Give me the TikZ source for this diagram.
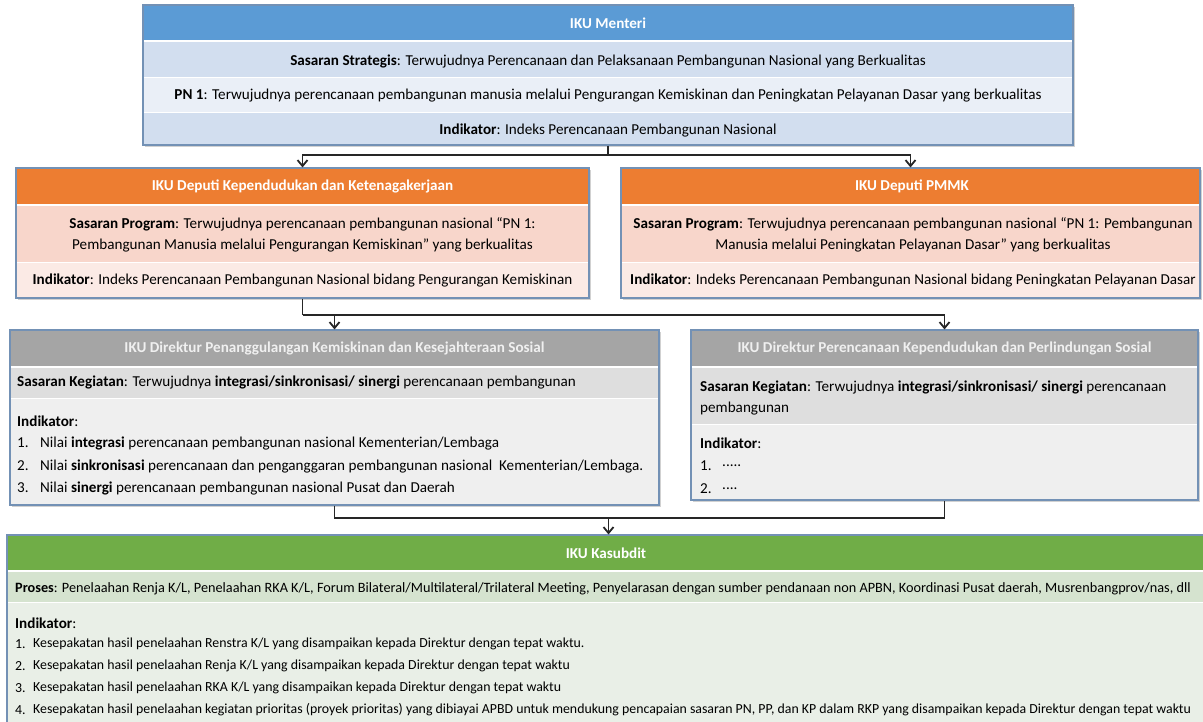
\documentclass[tikz,border=0pt]{standalone}
\usepackage{fontspec}
\setmainfont{Carlito}
\usetikzlibrary{arrows.meta}

\definecolor{frame}{HTML}{7391B5}
\definecolor{blueHead}{HTML}{5B9BD5}
\definecolor{blueRowA}{HTML}{D2DEEF}
\definecolor{blueRowB}{HTML}{EAEFF7}
\definecolor{orHead}{HTML}{ED7D31}
\definecolor{orRowA}{HTML}{F8D6CB}
\definecolor{orRowB}{HTML}{FBEAE5}
\definecolor{grHead}{HTML}{A5A5A5}
\definecolor{grRowA}{HTML}{DEDEDE}
\definecolor{grRowB}{HTML}{EFEFEF}
\definecolor{gnHead}{HTML}{70AD47}
\definecolor{gnRowA}{HTML}{D5E3CF}
\definecolor{gnRowB}{HTML}{E9EFE7}

\newcommand{\mainsize}{\fontsize{15.2}{21}\selectfont}
\newcommand{\smallsize}{\fontsize{13.9}{21}\selectfont}
\newcommand{\prosessize}{\fontsize{14.3}{21}\selectfont}

\tikzset{
  boxframe/.style={draw=frame, line width=1.1bp, inner sep=0pt},
  shade box/.style={fill=black, opacity=0.18},
  link/.style={draw=black!85, line width=1.2bp},
  tip/.style={-{Straight Barb[length=6bp,width=10bp,line width=1.8bp]}},
  headtxt/.style={inner sep=0pt, font=\mainsize\bfseries, text=white},
  greytxt/.style={inner sep=0pt, font=\mainsize\bfseries, text=white!94!black},
  txt/.style={inner sep=0pt},
  ltxt/.style={inner sep=0pt, anchor=west},
  para/.style={inner sep=0pt, align=center, font=\mainsize},
}

\begin{document}
\begin{tikzpicture}[x=1bp,y=-1bp, font=\mainsize]
\useasboundingbox (0,0) rectangle (1203,722);

% ---------- IKU Menteri ----------
\fill[shade box] (145,7) rectangle (1075,147);
\fill[white] (143,5) rectangle (1073,145);
\fill[blueHead] (143,5) rectangle (1073,40);
\fill[blueRowA] (143,42) rectangle (1073,77);
\fill[blueRowB] (143,78) rectangle (1073,112);
\fill[blueRowA] (143,113) rectangle (1073,145);
\node[boxframe, minimum width=930bp, minimum height=140bp] (menteri) at (608,75) {};
\node[headtxt] (menteriH) at (608,23) {IKU Menteri};
\node[txt] (menteriS) at (608,61) {\textbf{Sasaran Strategis}: Terwujudnya Perencanaan dan Pelaksanaan Pembangunan Nasional yang Berkualitas};
\node[txt] (menteriP) at (608,96) {\textbf{PN 1}: Terwujudnya perencanaan pembangunan manusia melalui Pengurangan Kemiskinan dan Peningkatan Pelayanan Dasar yang berkualitas};
\node[txt] (menteriI) at (608,130) {\textbf{Indikator}: Indeks Perencanaan Pembangunan Nasional};

% ---------- IKU Deputi Kependudukan dan Ketenagakerjaan ----------
\fill[shade box] (18,170) rectangle (591,300);
\fill[white] (16,168) rectangle (589,298);
\fill[orHead] (16,168) rectangle (589,204);
\fill[orRowA] (16,206) rectangle (589,262);
\fill[orRowB] (16,263) rectangle (589,298);
\node[boxframe, minimum width=573bp, minimum height=130bp] (depK) at (302.5,233) {};
\node[headtxt] (depKH) at (302.5,186) {IKU Deputi Kependudukan dan Ketenagakerjaan};
\node[para] (depKS) at (302.5,235) {\textbf{Sasaran Program}: Terwujudnya perencanaan pembangunan nasional “PN 1:\\Pembangunan Manusia melalui Pengurangan Kemiskinan” yang berkualitas};
\node[txt] (depKI) at (302.5,280) {\textbf{Indikator}: Indeks Perencanaan Pembangunan Nasional bidang Pengurangan Kemiskinan};

% ---------- IKU Deputi PMMK ----------
\fill[shade box] (623,170) rectangle (1202,300);
\fill[white] (621,168) rectangle (1200,298);
\fill[orHead] (621,168) rectangle (1200,204);
\fill[orRowA] (621,206) rectangle (1200,262);
\fill[orRowB] (621,263) rectangle (1200,298);
\node[boxframe, minimum width=579bp, minimum height=130bp] (depP) at (910.5,233) {};
\node[headtxt] (depPH) at (912,186) {IKU Deputi PMMK};
\node[para] (depPS) at (913,235) {\textbf{Sasaran Program}: Terwujudnya perencanaan pembangunan nasional “PN 1: Pembangunan\\Manusia melalui Peningkatan Pelayanan Dasar” yang berkualitas};
\node[txt] (depPI) at (913,280) {\textbf{Indikator}: Indeks Perencanaan Pembangunan Nasional bidang Peningkatan Pelayanan Dasar};

% ---------- IKU Direktur Penanggulangan Kemiskinan ----------
\fill[shade box] (12,332) rectangle (661,507);
\fill[white] (10,330) rectangle (659,505);
\fill[grHead] (10,330) rectangle (659,366);
\fill[grRowA] (10,368) rectangle (659,398);
\fill[grRowB] (10,399) rectangle (659,505);
\node[boxframe, minimum width=649bp, minimum height=175bp] (dirK) at (334.5,417.5) {};
\node[greytxt] (dirKH) at (334.5,348) {IKU Direktur Penanggulangan Kemiskinan dan Kesejahteraan Sosial};
\node[ltxt] (dirKS) at (17,382) {\textbf{Sasaran Kegiatan}: Terwujudnya \textbf{integrasi/sinkronisasi/ sinergi} perencanaan pembangunan};
\node[ltxt] (dirKI) at (17,421) {\textbf{Indikator}:};
\node[ltxt] (dirKn1) at (17,443) {1.};
\node[ltxt] (dirKt1) at (40,443) {Nilai \textbf{integrasi} perencanaan pembangunan nasional Kementerian/Lembaga};
\node[ltxt] (dirKn2) at (17,466) {2.};
\node[ltxt] (dirKt2) at (40,466) {Nilai \textbf{sinkronisasi} perencanaan dan penganggaran pembangunan nasional\ \ Kementerian/Lembaga.};
\node[ltxt] (dirKn3) at (17,488) {3.};
\node[ltxt] (dirKt3) at (40,488) {Nilai \textbf{sinergi} perencanaan pembangunan nasional Pusat dan Daerah};

% ---------- IKU Direktur Perencanaan Kependudukan ----------
\fill[shade box] (693,332) rectangle (1200,502);
\fill[white] (691,330) rectangle (1198,500);
\fill[grHead] (691,330) rectangle (1198,366);
\fill[grRowA] (691,368) rectangle (1198,424);
\fill[grRowB] (691,425) rectangle (1198,500);
\node[boxframe, minimum width=507bp, minimum height=170bp] (dirP) at (944.5,415) {};
\node[greytxt] (dirPH) at (944.5,348) {IKU Direktur Perencanaan Kependudukan dan Perlindungan Sosial};
\node[ltxt, align=left, font=\fontsize{15.2}{22}\selectfont] (dirPS) at (700,398) {\textbf{Sasaran Kegiatan}: Terwujudnya \textbf{integrasi/sinkronisasi/ sinergi} perencanaan\\pembangunan};
\node[ltxt] (dirPI) at (700,443) {\textbf{Indikator}:};
\node[ltxt] (dirPn1) at (700,466) {1.};
\node[ltxt] (dirPt1) at (722,466) {.....};
\node[ltxt] (dirPn2) at (700,489) {2.};
\node[ltxt] (dirPt2) at (722,489) {....};

% ---------- IKU Kasubdit ----------
\fill[white] (7,535) rectangle (1210,730);
\fill[gnHead] (7,535) rectangle (1210,570);
\fill[gnRowA] (7,572) rectangle (1210,602);
\fill[gnRowB] (7,603) rectangle (1210,730);
\node[boxframe, minimum width=1203bp, minimum height=195bp] (kasub) at (608.5,632.5) {};
\node[headtxt] (kasubH) at (606,553) {IKU Kasubdit};
\node[ltxt, font=\prosessize] (kasubP) at (15,589) {\textbf{Proses}: Penelaahan Renja K/L, Penelaahan RKA K/L, Forum Bilateral/Multilateral/Trilateral Meeting, Penyelarasan dengan sumber pendanaan non APBN, Koordinasi Pusat daerah, Musrenbangprov/nas, dll};
\node[ltxt] (kasubI) at (15,623) {\textbf{Indikator}:};
\begin{scope}[font=\smallsize]
\node[ltxt] (kasubn1) at (15,644) {1.};
\node[ltxt] (kasubt1) at (33,644) {Kesepakatan hasil penelaahan Renstra K/L yang disampaikan kepada Direktur dengan tepat waktu.};
\node[ltxt] (kasubn2) at (15,666) {2.};
\node[ltxt] (kasubt2) at (33,666) {Kesepakatan hasil penelaahan Renja K/L yang disampaikan kepada Direktur dengan tepat waktu};
\node[ltxt] (kasubn3) at (15,688) {3.};
\node[ltxt] (kasubt3) at (33,688) {Kesepakatan hasil penelaahan RKA K/L yang disampaikan kepada Direktur dengan tepat waktu};
\node[ltxt] (kasubn4) at (15,710) {4.};
\node[ltxt] (kasubt4) at (33,710) {Kesepakatan hasil penelaahan kegiatan prioritas (proyek prioritas) yang dibiayai APBD untuk mendukung pencapaian sasaran PN, PP, dan KP dalam RKP yang disampaikan kepada Direktur dengan tepat waktu};
\end{scope}

% ---------- Connectors ----------
\coordinate (splitA) at (608,155);
\coordinate (splitB) at (302.5,315);
\coordinate (splitC) at (334.5,518);
\draw[link] (menteri.south) -- (splitA);
\draw[link, tip] (splitA) -| (depK.north);
\draw[link, tip] (splitA) -| (depP.north);
\draw[link] (depK.south) -- (splitB);
\draw[link, tip] (splitB) -| (dirP.north);
\draw[link, tip] (splitB) -| (dirK.north);
\draw[link] (dirK.south) -- (splitC) -| (dirP.south);
\draw[link, tip] (splitC -| kasub.north) -- (kasub.north);
\end{tikzpicture}
\end{document}
